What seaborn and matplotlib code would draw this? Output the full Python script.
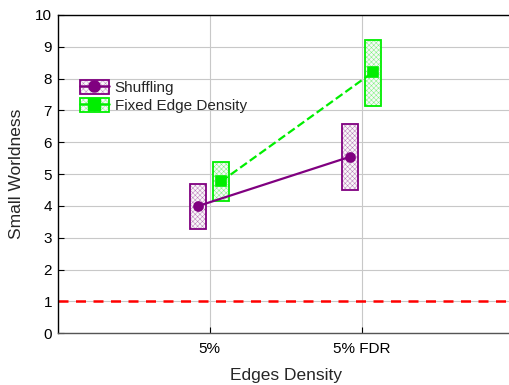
import matplotlib
matplotlib.use("Agg")
import matplotlib.pyplot as plt
from matplotlib.patches import Patch
from matplotlib.lines import Line2D
from matplotlib.colors import to_rgba
import numpy as np
import pandas as pd
import seaborn as sns

# Data
categories = ["5%", "5% FDR"]
groups = ["Shuffling", "Fixed Edge Density"]
shuffling_mean = [4.0, 5.55]
shuffling_low = [3.27, 4.49]
shuffling_high = [4.68, 6.57]
fixed_mean = [4.77, 8.21]
fixed_low = [4.17, 7.13]
fixed_high = [5.37, 9.23]
reference_level = 1.0

colors = {"Shuffling": "#800080", "Fixed Edge Density": "#00ee00"}
markers = {"Shuffling": "o", "Fixed Edge Density": "s"}
linestyles = {"Shuffling": "-", "Fixed Edge Density": "--"}

df = pd.DataFrame({
    "Edges Density": categories * 2,
    "Small Worldness": shuffling_mean + fixed_mean,
    "group": [groups[0]] * 2 + [groups[1]] * 2,
})

sns.set_theme(style="white")
plt.rcParams["font.family"] = ["Liberation Sans", "DejaVu Sans"]
plt.rcParams["hatch.linewidth"] = 0.35

W, H, DPI = 509, 385, 100
fig = plt.figure(figsize=(W / DPI, H / DPI), dpi=DPI)
left, right, top, bottom = 57.5, 514, 15, 333.3
ax = fig.add_axes([left / W, 1 - bottom / H, (right - left) / W, (bottom - top) / H])

dodge = 0.15
offsets = [-dodge / 2, dodge / 2]
box_w = 0.105
box_hatch = "xxxxxxx"
ranges = {
    "Shuffling": (shuffling_low, shuffling_high),
    "Fixed Edge Density": (fixed_low, fixed_high),
}
# Range boxes: a light stippled fill with a solid outline on top
for g, off in zip(groups, offsets):
    lo, hi = ranges[g]
    xs = np.arange(len(categories)) + off
    heights = np.array(hi) - np.array(lo)
    ax.bar(xs, heights, bottom=lo, width=box_w, facecolor="#f8f8f8",
           edgecolor=to_rgba(colors[g], 0.5), hatch=box_hatch,
           linewidth=0, zorder=3)
    ax.bar(xs, heights, bottom=lo, width=box_w, facecolor="none",
           edgecolor=colors[g], linewidth=1.3, zorder=3.1)

sns.pointplot(data=df, x="Edges Density", y="Small Worldness", hue="group",
              hue_order=groups, order=categories, palette=colors,
              markers=[markers[g] for g in groups],
              linestyles=[linestyles[g] for g in groups],
              dodge=dodge, errorbar=None, ax=ax, legend=False,
              markersize=6.5, linewidth=1.6)
for ln in ax.lines:
    ln.set_zorder(4)

ax.axhline(reference_level, color="#ff0000", linestyle=(0, (4, 3)),
           linewidth=1.8, zorder=2)

ax.set_xlim(-1, 2)
ax.set_ylim(0, 10)
ax.set_yticks(range(0, 11))
ax.set_xticks(range(len(categories)))
ax.set_xticklabels(categories)
ax.grid(True, color="#c8c8c8", linewidth=0.8, zorder=0)
ax.set_axisbelow(True)
for side in ["left", "bottom", "top", "right"]:
    ax.spines[side].set_visible(True)
    ax.spines[side].set_color("#000000")
    ax.spines[side].set_linewidth(1.0)
ax.spines["bottom"].set_color("#555555")
ax.tick_params(axis="both", direction="in", length=4, width=0.8,
               labelsize=11, colors="#000000", pad=6)
ax.tick_params(axis="y", left=True, pad=4)
ax.tick_params(axis="x", bottom=True)
ax.set_xlabel("Edges Density", fontsize=12.5, labelpad=9)
ax.set_ylabel("Small Worldness", fontsize=12.5, labelpad=8)

# Legend keys: light hatched fill, solid outline, then the line with its marker
handles = []
for g in groups:
    fill = Patch(facecolor="#f8f8f8", edgecolor=to_rgba(colors[g], 0.45),
                 hatch="xxxxxx", linewidth=0)
    outline = Patch(facecolor="none", edgecolor=colors[g], linewidth=1.3)
    l = Line2D([], [], color=colors[g], marker=markers[g], markersize=8,
               linewidth=1.8, linestyle="-")
    handles.append((fill, outline, l))
ax.legend(handles, groups, loc="upper left", bbox_to_anchor=(0.035, 0.815),
          frameon=False, fontsize=11, handlelength=1.9, handleheight=1.0,
          handletextpad=0.4, borderaxespad=0, labelspacing=0.2)

fig.savefig("out.png", dpi=DPI)
